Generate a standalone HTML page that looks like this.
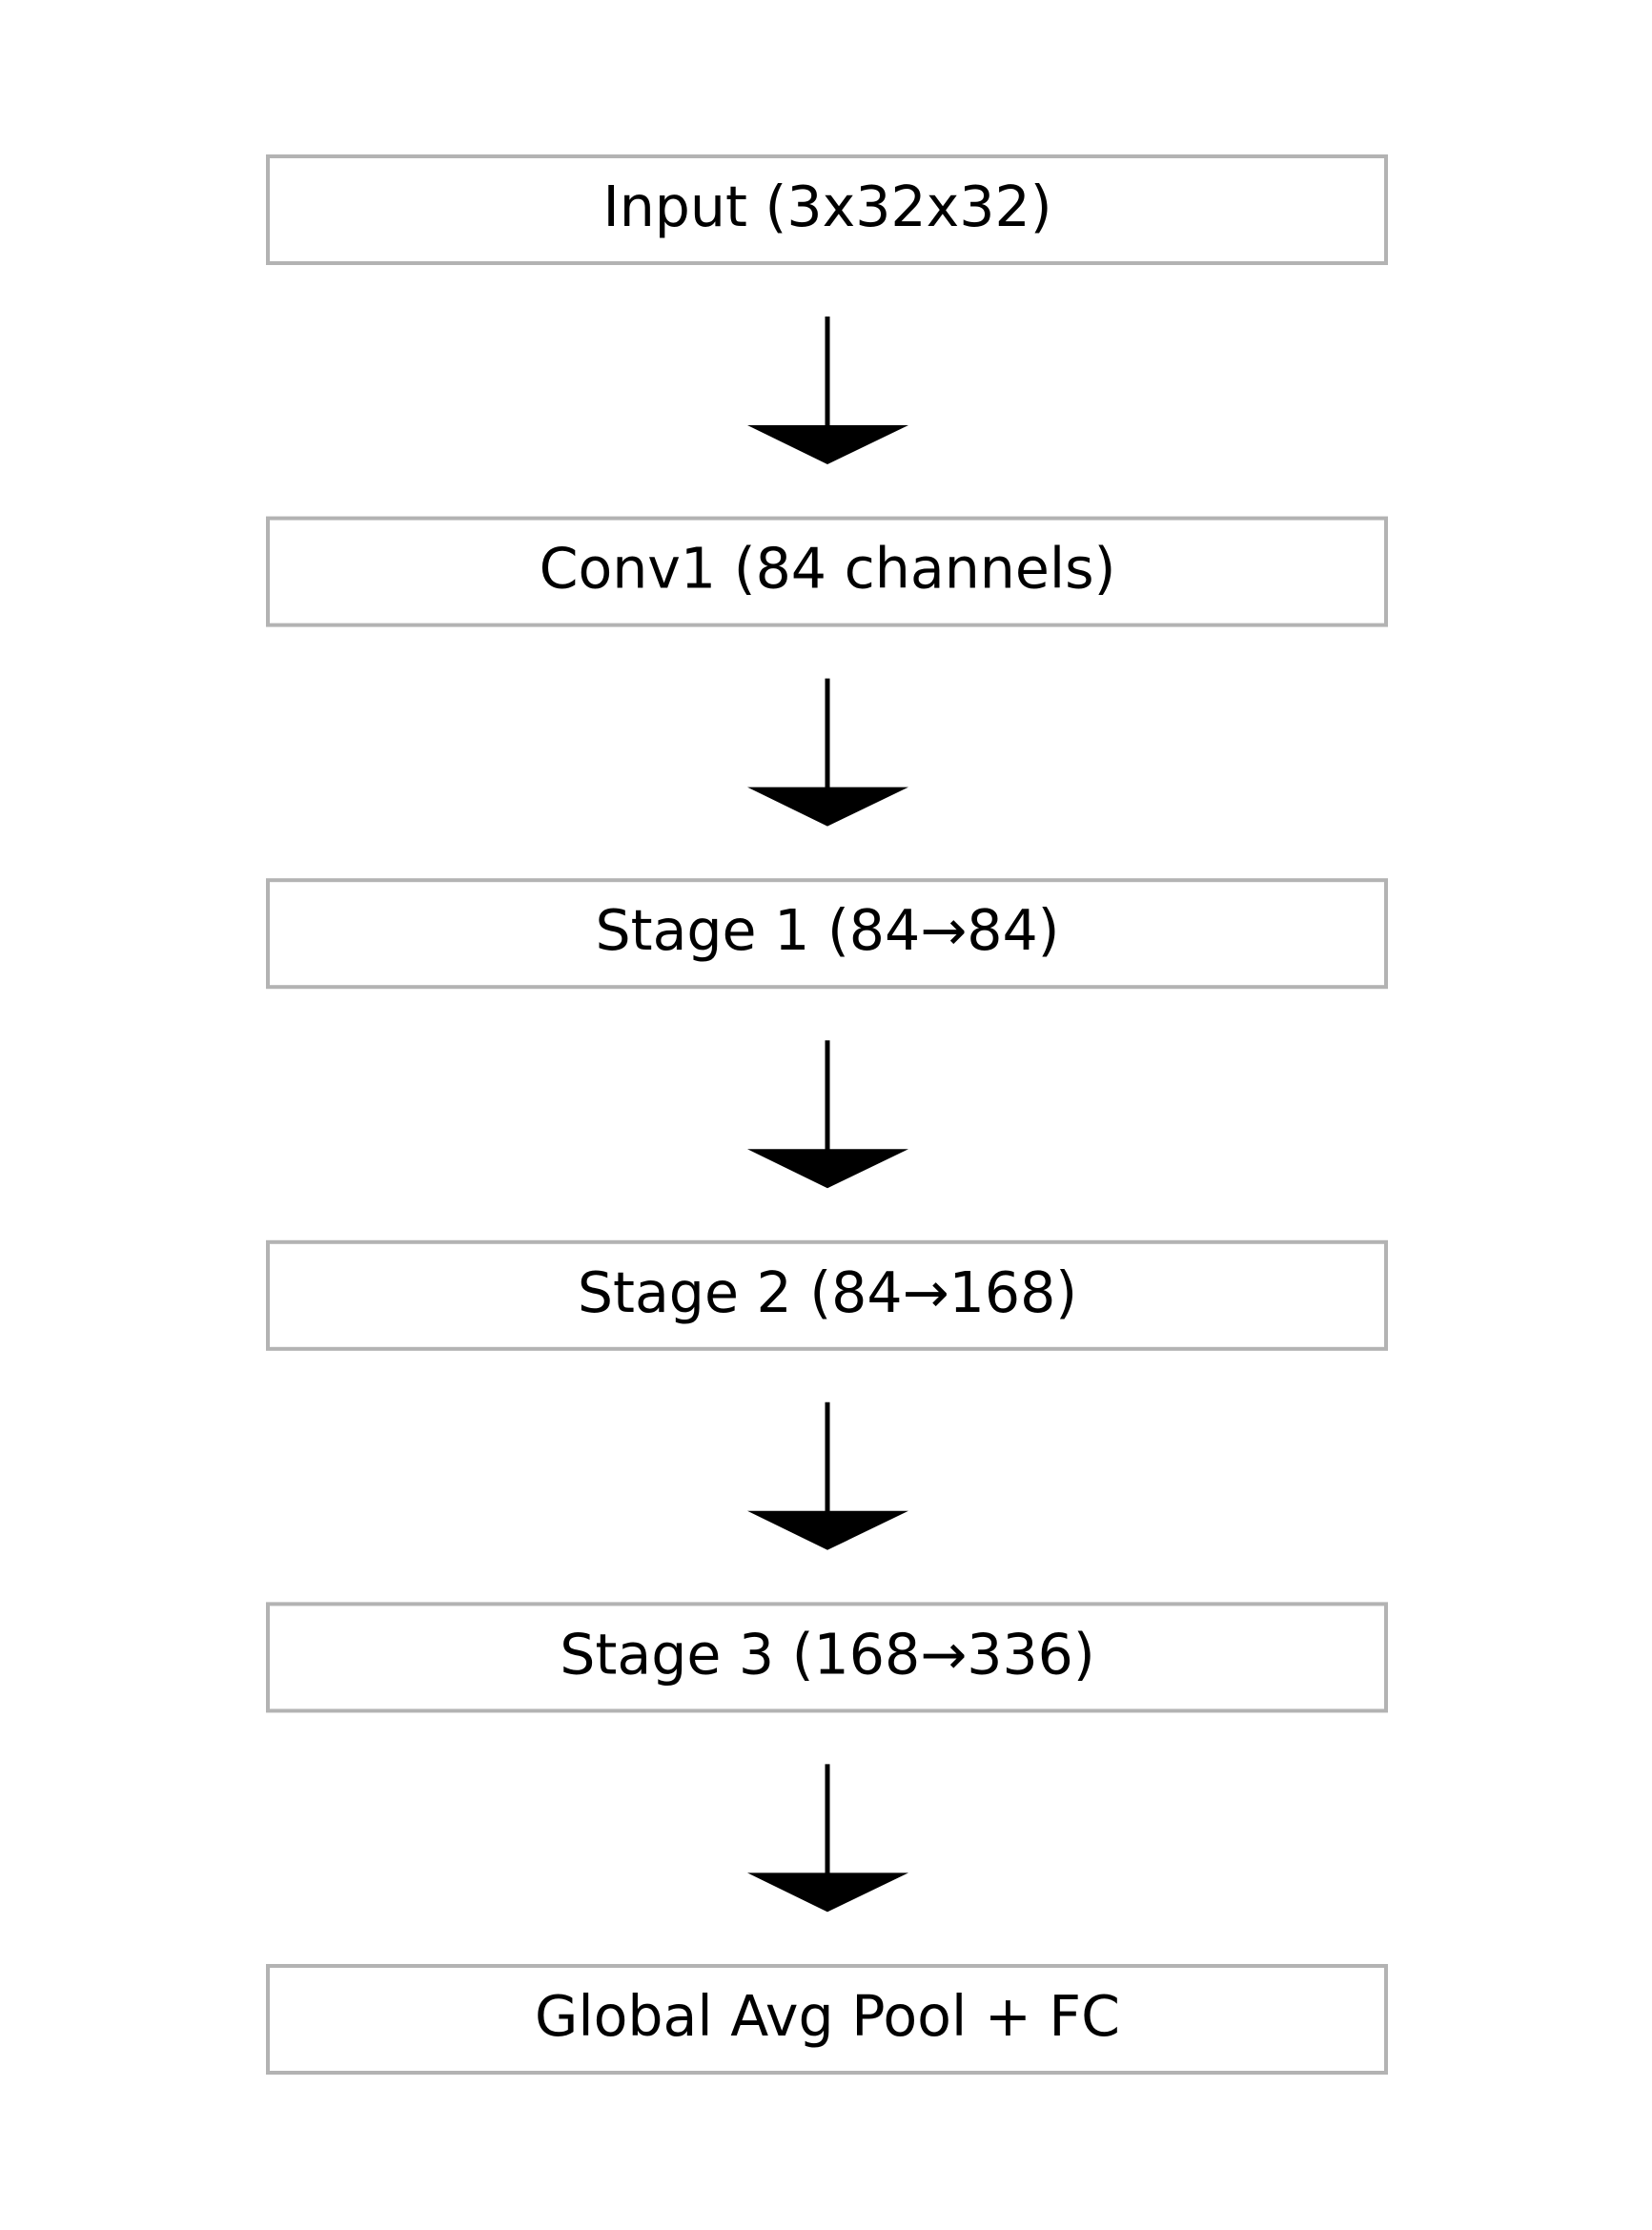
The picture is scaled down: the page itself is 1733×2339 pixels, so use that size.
<!DOCTYPE html>
<html><head><meta charset="utf-8"><style>html,body{margin:0;padding:0;background:#fff}</style></head>
<body>
<svg width="1733" height="2334" viewBox="0 0 1733 2334" xmlns="http://www.w3.org/2000/svg">
<rect width="1733" height="2334" fill="#fff"/>
<g font-family="DejaVu Sans, Liberation Sans, sans-serif" font-size="58.5" text-anchor="middle" fill="#000">
<g transform="translate(0,0)">
<rect x="281" y="164" width="1173" height="112" fill="#fff" stroke="#b3b3b3" stroke-width="4"/>
<text x="868" y="237">Input (3x32x32)</text>
<line x1="868" y1="332" x2="868" y2="448" stroke="#000" stroke-width="5"/>
<polygon points="784,446 953,446 868,487" fill="#000"/>
</g>
<g transform="translate(0,379.6)">
<rect x="281" y="164" width="1173" height="112" fill="#fff" stroke="#b3b3b3" stroke-width="4"/>
<text x="868" y="237">Conv1 (84 channels)</text>
<line x1="868" y1="332" x2="868" y2="448" stroke="#000" stroke-width="5"/>
<polygon points="784,446 953,446 868,487" fill="#000"/>
</g>
<g transform="translate(0,759.2)">
<rect x="281" y="164" width="1173" height="112" fill="#fff" stroke="#b3b3b3" stroke-width="4"/>
<text x="868" y="237">Stage 1 (84→84)</text>
<line x1="868" y1="332" x2="868" y2="448" stroke="#000" stroke-width="5"/>
<polygon points="784,446 953,446 868,487" fill="#000"/>
</g>
<g transform="translate(0,1138.8)">
<rect x="281" y="164" width="1173" height="112" fill="#fff" stroke="#b3b3b3" stroke-width="4"/>
<text x="868" y="237">Stage 2 (84→168)</text>
<line x1="868" y1="332" x2="868" y2="448" stroke="#000" stroke-width="5"/>
<polygon points="784,446 953,446 868,487" fill="#000"/>
</g>
<g transform="translate(0,1518.4)">
<rect x="281" y="164" width="1173" height="112" fill="#fff" stroke="#b3b3b3" stroke-width="4"/>
<text x="868" y="237">Stage 3 (168→336)</text>
<line x1="868" y1="332" x2="868" y2="448" stroke="#000" stroke-width="5"/>
<polygon points="784,446 953,446 868,487" fill="#000"/>
</g>
<g transform="translate(0,1898)">
<rect x="281" y="164" width="1173" height="112" fill="#fff" stroke="#b3b3b3" stroke-width="4"/>
<text x="868" y="237">Global Avg Pool + FC</text>
</g>
</g>
</svg>
</body></html>
